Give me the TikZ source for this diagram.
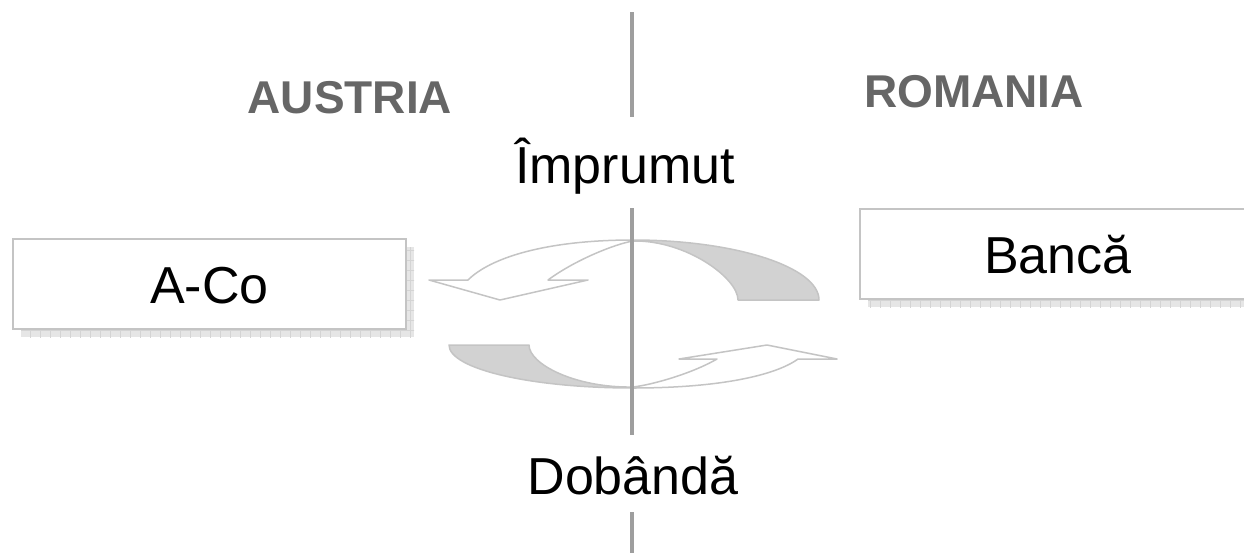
\documentclass[tikz,border=0pt]{standalone}
\usepackage{fontspec}
\setmainfont{Liberation Sans}

\definecolor{divider}{HTML}{9E9E9E}
\definecolor{labelgray}{HTML}{666666}
\definecolor{edgegray}{HTML}{C4C4C4}
\definecolor{tailfill}{HTML}{D2D2D2}
\definecolor{shadowfill}{HTML}{E6E6E6}
\definecolor{shadowgrid}{HTML}{D4D4D4}

\tikzset{
  party/.style={draw=edgegray, line width=2pt, fill=white, inner sep=0pt,
    minimum height=90pt, text height=38pt, text depth=0pt,
    font=\fontsize{52}{60}\selectfont},
  country/.style={text=labelgray, anchor=base,
    font=\fontsize{46}{54}\selectfont\bfseries},
  flow/.style={anchor=base, font=\fontsize{52}{60}\selectfont},
  divider line/.style={draw=divider, line width=4pt},
  ribbon front/.style={draw=edgegray, line width=1.5pt, fill=white, line join=round},
  ribbon back/.style={draw=edgegray, line width=1.5pt, fill=tailfill, line join=round},
}

% gridded drop shadow of a box centred at #1, half width #2, half height #3,
% offset 8pt right and down
\newcommand\gridshadow[3]{%
  \begin{scope}
    \clip ([shift={(-#2+8,-#3+8)}]#1) rectangle ([shift={(#2+8,#3+8)}]#1);
    \fill[shadowfill] ([shift={(-#2+8,-#3+8)}]#1) rectangle ([shift={(#2+8,#3+8)}]#1);
    \foreach \gx in {0,10,...,1300} \draw[shadowgrid, line width=0.8pt] (\gx,0) -- (\gx,560);
    \foreach \gy in {0,10,...,560} \draw[shadowgrid, line width=0.8pt] (0,\gy) -- (1300,\gy);
  \end{scope}}

\begin{document}
\begin{tikzpicture}[x=1pt, y=-1pt]
  \useasboundingbox (0,0) rectangle (1244,552);
  \clip (0,0) rectangle (1244,552);

  % country headings
  \node[country] (austria) at (350,113) {AUSTRIA};
  \node[country] (romania) at (974,107) {ROMANIA};

  % flow labels
  \node[flow] (loan) at (625,183) {Împrumut};
  \node[flow] (interest) at (633,494) {Dobândă};

  % the two parties, each over its shadow
  \coordinate (acoC) at (209.5,284);
  \coordinate (bankC) at (1058,254);
  \gridshadow{acoC}{196.5}{45}
  \gridshadow{bankC}{198}{45}
  \node[party, minimum width=393pt] (aco) at (acoC) {A-Co};
  \node[party, minimum width=396pt] (bank) at (bankC) {Bancă};

  % loan: curved ribbon arrow from the bank towards A-Co
  \path[ribbon back] (633,240) .. controls (735,240) and (819,267) .. (819,300)
    -- (738,300) .. controls (738,278) and (686,240) .. (633,241) -- cycle;
  \path[ribbon front] (633,240) .. controls (545,240) and (490,258) .. (468,280)
    -- (429,280) -- (500,300) -- (588,280) -- (548,280)
    .. controls (575,260) and (615,244) .. (633,241) -- cycle;

  % interest: curved ribbon arrow from A-Co towards the bank
  \path[ribbon back] (633,388) .. controls (531,388) and (449,369) .. (449,345)
    -- (529,345) .. controls (529,364) and (575,388) .. (633,387) -- cycle;
  \path[ribbon front] (633,388) .. controls (721,388) and (776,375) .. (798,359)
    -- (837,359) -- (767,345) -- (679,359) -- (717,359)
    .. controls (691,374) and (651,385) .. (633,387) -- cycle;

  % border between the two countries
  \coordinate (d1) at (632,12);
  \coordinate (d2) at (632,117);
  \coordinate (d3) at (632,208);
  \coordinate (d4) at (632,435);
  \coordinate (d5) at (632,512);
  \coordinate (d6) at (632,556);
  \draw[divider line] (d1) -- (d2);
  \draw[divider line] (d3) -- (d4);
  \draw[divider line] (d5) -- (d6);
\end{tikzpicture}
\end{document}
